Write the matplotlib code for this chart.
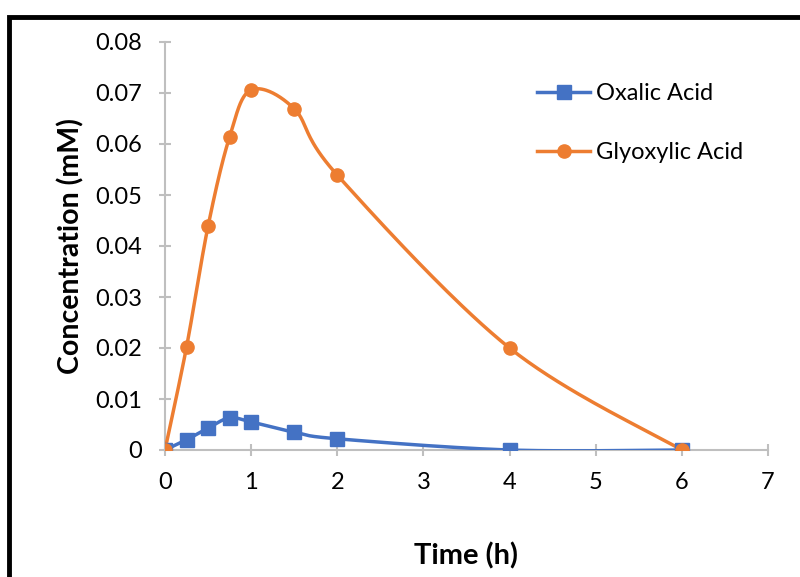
import numpy as np
import matplotlib
matplotlib.use("Agg")
import matplotlib.pyplot as plt
from matplotlib.patches import Rectangle

time_h = [0, 0.25, 0.5, 0.75, 1, 1.5, 2, 4, 6]
oxalic = [0.0, 0.0020, 0.0043, 0.0063, 0.0055, 0.0035, 0.0022, 0.0, 0.0]
glyoxylic = [0.0, 0.0202, 0.0439, 0.0614, 0.0706, 0.0669, 0.0539, 0.0200, 0.0]
x_ticks = [0, 1, 2, 3, 4, 5, 6, 7]
y_ticks = [0, 0.01, 0.02, 0.03, 0.04, 0.05, 0.06, 0.07, 0.08]
y_tick_labels = ["0", "0.01", "0.02", "0.03", "0.04", "0.05", "0.06", "0.07", "0.08"]

BLUE = "#4472C4"
ORANGE = "#ED7D31"
FONT = ["Lato", "DejaVu Sans"]


def smooth(xs, ys, n=40):
    """Excel-style smoothed line (Catmull-Rom Bezier) through the points."""
    p = np.column_stack([xs, ys]).astype(float)
    out = []
    for i in range(len(p) - 1):
        p0 = p[i - 1] if i > 0 else p[i]
        p1 = p[i]
        p2 = p[i + 1]
        p3 = p[i + 2] if i + 2 < len(p) else p[i + 1]
        c1 = p1 + (p2 - p0) / 6
        c2 = p2 - (p3 - p1) / 6
        t = np.linspace(0, 1, n)[:, None]
        seg = ((1 - t) ** 3) * p1 + 3 * ((1 - t) ** 2) * t * c1 + 3 * (1 - t) * t ** 2 * c2 + t ** 3 * p2
        out.append(seg if i == 0 else seg[1:])
    s = np.vstack(out)
    return s[:, 0], s[:, 1]


fig = plt.figure(figsize=(8, 5.77), dpi=100)
ax = fig.add_axes([165 / 800, 1 - 450 / 577, (768 - 165) / 800, (450 - 42) / 577])

handles = []
for ys, col, mk, lab in [(oxalic, BLUE, "s", "Oxalic Acid"), (glyoxylic, ORANGE, "o", "Glyoxylic Acid")]:
    sx, sy = smooth(time_h, ys)
    ax.plot(sx, sy, color=col, lw=2.5, solid_capstyle="round", zorder=3)
    ax.plot(time_h, ys, linestyle="none", marker=mk, ms=9.5, color=col, zorder=4)
    h, = ax.plot([], [], color=col, lw=2.5, marker=mk, ms=9.5, label=lab)
    handles.append(h)

ax.set_xlim(0, 7)
ax.set_ylim(0, 0.08)
ax.set_xticks(x_ticks)
ax.set_xticklabels([str(v) for v in x_ticks])
ax.set_yticks(y_ticks)
ax.set_yticklabels(y_tick_labels)
for s in ["top", "right"]:
    ax.spines[s].set_visible(False)
for s in ["left", "bottom"]:
    ax.spines[s].set_color("#bfbfbf")
    ax.spines[s].set_linewidth(1.5)
ax.tick_params(direction="inout", length=9, width=1.5, color="#bfbfbf",
               labelsize=17, labelcolor="black")
ax.tick_params(axis="y", pad=12)
ax.tick_params(axis="x", pad=11)
for lbl in ax.get_xticklabels() + ax.get_yticklabels():
    lbl.set_family(FONT)

ax.set_xlabel("Time (h)", fontsize=21, fontweight="bold", family=FONT, labelpad=36)
ax.set_ylabel("Concentration (mM)", fontsize=20.5, fontweight="bold", family=FONT, labelpad=8)

leg = ax.legend(handles=handles, loc="upper left", bbox_to_anchor=(537 / 800, 1 - 83 / 577),
                bbox_transform=fig.transFigure, frameon=False, borderpad=0, borderaxespad=0,
                prop={"family": FONT, "size": 17}, labelspacing=1.62,
                handlelength=2.25, handletextpad=0.25)

fig.patches.append(Rectangle((9 / 800, -0.2), 1.5, 1.2 - 17 / 577, transform=fig.transFigure,
                             fill=False, edgecolor="black", linewidth=3.5, clip_on=False))

fig.savefig("out.png", dpi=100)
